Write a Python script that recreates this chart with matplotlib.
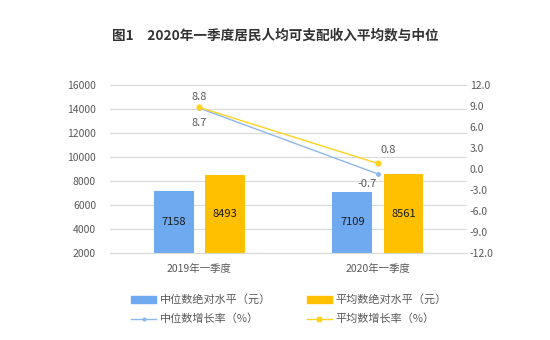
import matplotlib
matplotlib.use("Agg")
import matplotlib.pyplot as plt
from matplotlib.lines import Line2D
from matplotlib.patches import Patch

plt.rcParams['font.family'] = ['Noto Sans CJK SC', 'DejaVu Sans']

categories = ["2019年一季度", "2020年一季度"]
median_level = [7158, 7109]
mean_level = [8493, 8561]
median_growth = [8.7, -0.7]
mean_growth = [8.8, 0.8]
left_ticks = [2000, 4000, 6000, 8000, 10000, 12000, 14000, 16000]
right_ticks = [-12.0, -9.0, -6.0, -3.0, 0.0, 3.0, 6.0, 9.0, 12.0]

c_med_bar = "#6FA9F0"
c_mean_bar = "#FFC000"
c_med_line = "#8DB8EA"
c_mean_line = "#FFD21F"
txt = "#595959"

fig = plt.figure(figsize=(5.5, 3.4), dpi=100)
ax = fig.add_axes([0.2, 0.256, 0.649, 0.494])
ax2 = ax.twinx()

x = list(range(len(categories)))
w = 0.223
xm = [i - 0.142 for i in x]
xa = [i + 0.145 for i in x]
ax.bar(xm, [v - 2000 for v in median_level], w, bottom=2000, color=c_med_bar, zorder=2)
ax.bar(xa, [v - 2000 for v in mean_level], w, bottom=2000, color=c_mean_bar, zorder=2)
for xi, v in zip(xm, median_level):
    ax.text(xi, (2000 + v) / 2, f"{v}", ha="center", va="center", fontsize=8, color="#1a1a1a")
for xi, v in zip(xa, mean_level):
    ax.text(xi, (2000 + v) / 2, f"{v}", ha="center", va="center", fontsize=8, color="#1a1a1a")

ax.set_xlim(-0.5, 1.5)
ax.set_ylim(2000, 16000)
ax.set_yticks(left_ticks)
ax.set_yticklabels([str(t) for t in left_ticks])
ax.set_xticks(x)
ax.set_xticklabels(categories)
ax.grid(axis="y", color="#d9d9d9", linewidth=0.8, zorder=0)
ax.set_axisbelow(True)
for s in ax.spines.values():
    s.set_visible(False)
for s in ax2.spines.values():
    s.set_visible(False)
ax.spines["bottom"].set_visible(True)
ax.spines["bottom"].set_color("#d9d9d9")
ax.tick_params(axis="y", length=0, labelsize=7.5, colors=txt, pad=10)
ax.tick_params(axis="x", length=0, labelsize=7.5, colors=txt, pad=8)

ax2.plot(x, median_growth, color=c_med_line, lw=1.0, marker="o", ms=2.5, zorder=3)
ax2.plot(x, mean_growth, color=c_mean_line, lw=1.0, marker="o", ms=3.5, zorder=4)
ax2.set_ylim(-12, 12)
ax2.set_yticks(right_ticks)
ax2.set_yticklabels([f"{t:.1f}" for t in right_ticks])
ax2.tick_params(axis="y", length=0, labelsize=7.5, colors=txt, pad=2)

ax2.annotate(f"{mean_growth[0]}", (x[0], mean_growth[0]), xytext=(0, 4), textcoords="offset points",
             ha="center", va="bottom", fontsize=8, color=txt)
ax2.annotate(f"{median_growth[0]}", (x[0], median_growth[0]), xytext=(0, -7), textcoords="offset points",
             ha="center", va="top", fontsize=8, color=txt)
ax2.annotate(f"{mean_growth[1]}", (x[1], mean_growth[1]), xytext=(2, 6), textcoords="offset points",
             ha="left", va="bottom", fontsize=8, color=txt)
ax2.annotate(f"{median_growth[1]}", (x[1], median_growth[1]), xytext=(-1, -4), textcoords="offset points",
             ha="right", va="top", fontsize=8, color=txt)

handles = [
    Patch(color=c_med_bar, label="中位数绝对水平（元）"),
    Patch(color=c_mean_bar, label="平均数绝对水平（元）"),
    Line2D([], [], color=c_med_line, lw=1, marker="o", ms=2, label="中位数增长率（%）"),
    Line2D([], [], color=c_mean_line, lw=1, marker="s", ms=3, label="平均数增长率（%）"),
]
order = [0, 2, 1, 3]
fig.legend([handles[i] for i in order], [handles[i].get_label() for i in order],
           ncol=2, loc="center", bbox_to_anchor=(0.525, 0.09), frameon=False,
           fontsize=8, labelcolor=txt, handlelength=2.3, handleheight=0.5,
           columnspacing=3.2, handletextpad=0.3, labelspacing=0.75)

fig.text(0.5, 0.895, "图1　2020年一季度居民人均可支配收入平均数与中位", ha="center", va="center",
         fontsize=9.8, fontweight="bold", color="#333333")

fig.savefig("out.png", dpi=100, facecolor="white")
